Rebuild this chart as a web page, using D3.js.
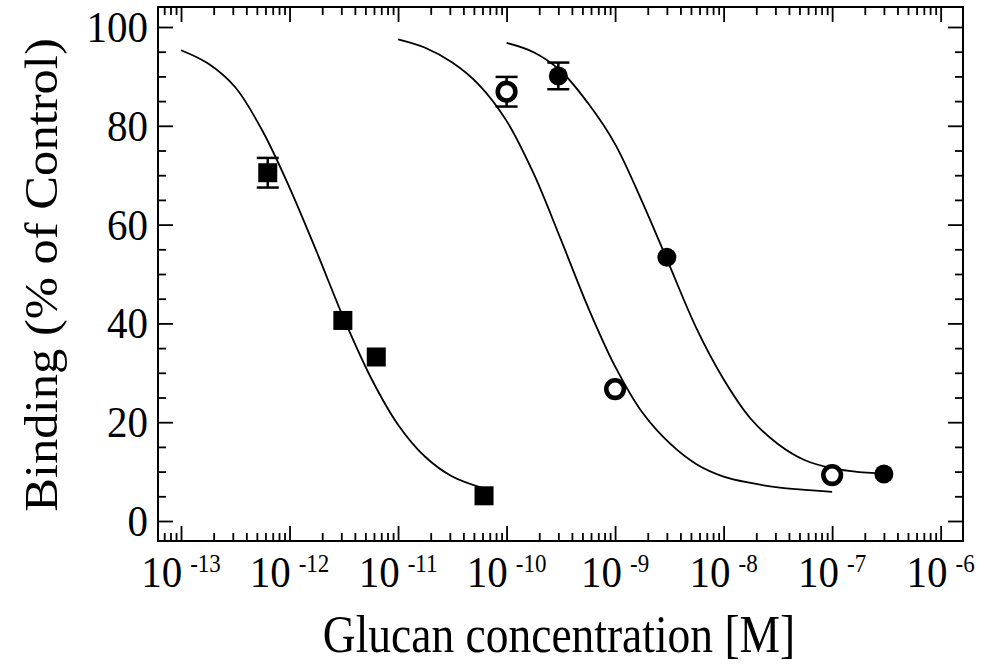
<!DOCTYPE html>
<html>
<head>
<meta charset="utf-8">
<script src="https://cdn.jsdelivr.net/npm/d3@7"></script>
<style>
  html, body { margin: 0; padding: 0; background: #fff; }
  svg { display: block; }
  text { font-family: "Liberation Serif", "Times New Roman", serif; fill: #000; }
</style>
</head>
<body>
<svg id="chart" width="982" height="666"></svg>
<script>
// ---------------- data ----------------
// Filled squares
const sqConc    = [6.3e-13, 3.1e-12, 6.3e-12, 6.2e-11];
const sqBinding = [70.5, 40.6, 33.2, 5.1];
const sqErr     = [3.0, 0, 0, 0];
// Open circles
const openConc    = [1.0e-10, 1.0e-9, 1.0e-7];
const openBinding = [86.9, 26.7, 9.3];
const openErr     = [3.0, 0, 0];
// Filled circles
const filledConc    = [3.0e-10, 3.0e-9, 3.0e-7];
const filledBinding = [90.1, 53.4, 9.5];
const filledErr     = [2.7, 0, 0];

// Fitted curves (log10 concentration, binding %)
const curveSqLog = [-13.0, -12.75, -12.5, -12.25, -12.0, -11.75, -11.5, -11.25, -11.0, -10.75, -10.5, -10.21];
const curveSqY   = [95.3, 92.6, 87.8, 79.0, 67.5, 54.5, 41.0, 29.0, 19.5, 13.0, 9.0, 6.6];

const curveOpenLog = [-11.0, -10.75, -10.5, -10.25, -10.0, -9.75, -9.5, -9.25, -9.0, -8.75, -8.5, -8.25, -8.0, -7.75, -7.5, -7.25, -7.0];
const curveOpenY   = [97.5, 95.8, 92.8, 88.2, 81.0, 70.3, 57.0, 43.3, 31.3, 22.0, 15.8, 11.5, 9.0, 7.7, 6.8, 6.3, 5.9];

const curveFilledLog = [-10.0, -9.75, -9.5, -9.25, -9.0, -8.75, -8.5, -8.25, -8.0, -7.75, -7.5, -7.25, -7.0, -6.75, -6.59];
const curveFilledY   = [96.8, 94.9, 91.1, 84.6, 76.3, 64.6, 51.8, 39.0, 28.7, 20.7, 15.6, 12.3, 10.7, 9.9, 9.7];

// Tick labels
const xTickValues = [1e-13, 1e-12, 1e-11, 1e-10, 1e-9, 1e-8, 1e-7, 1e-6];
const xTickExps   = ["-13", "-12", "-11", "-10", "-9", "-8", "-7", "-6"];
const yTickValues = [0, 20, 40, 60, 80, 100];
const yTickLabels = ["0", "20", "40", "60", "80", "100"];
const yMinorValues = [5, 10, 15, 25, 30, 35, 45, 50, 55, 65, 70, 75, 85, 90, 95];

const xTitle = "Glucan concentration [M]";
const yTitle = "Binding (% of Control)";

// ---------------- layout ----------------
const L = 158, R = 963, T = 7, B = 541;
const svg = d3.select("#chart");

const x = d3.scaleLog().domain([Math.pow(10, -13.212), Math.pow(10, -5.794)]).range([L, R]);
const y = d3.scaleLinear().domain([-4.05, 104.05]).range([B, T]);

// minor x ticks (2..9 of each decade), inside domain
const xMinor = [];
for (let e = -14; e <= -6; e++) {
  for (let m = 2; m <= 9; m++) {
    const v = m * Math.pow(10, e);
    if (v > x.domain()[0] && v < x.domain()[1]) xMinor.push(v);
  }
}

const MAJ = 15, MIN = 8;
function styleAxis(g) {
  g.select(".domain").remove();
  g.selectAll("line").attr("stroke", "#000").attr("stroke-width", 1.8);
  g.selectAll("text").remove();
}

// bottom / top
svg.append("g").attr("transform", `translate(0,${B})`)
  .call(d3.axisBottom(x).tickValues(xTickValues).tickSize(-MAJ).tickFormat("")).call(styleAxis);
svg.append("g").attr("transform", `translate(0,${B})`)
  .call(d3.axisBottom(x).tickValues(xMinor).tickSize(-MIN).tickFormat("")).call(styleAxis);
svg.append("g").attr("transform", `translate(0,${T})`)
  .call(d3.axisTop(x).tickValues(xTickValues).tickSize(-MAJ).tickFormat("")).call(styleAxis);
svg.append("g").attr("transform", `translate(0,${T})`)
  .call(d3.axisTop(x).tickValues(xMinor).tickSize(-MIN).tickFormat("")).call(styleAxis);
// left / right
svg.append("g").attr("transform", `translate(${L},0)`)
  .call(d3.axisLeft(y).tickValues(yTickValues).tickSize(-MAJ).tickFormat("")).call(styleAxis);
svg.append("g").attr("transform", `translate(${L},0)`)
  .call(d3.axisLeft(y).tickValues(yMinorValues).tickSize(-MIN).tickFormat("")).call(styleAxis);
svg.append("g").attr("transform", `translate(${R},0)`)
  .call(d3.axisRight(y).tickValues(yTickValues).tickSize(-MAJ).tickFormat("")).call(styleAxis);
svg.append("g").attr("transform", `translate(${R},0)`)
  .call(d3.axisRight(y).tickValues(yMinorValues).tickSize(-MIN).tickFormat("")).call(styleAxis);

// frame
svg.append("rect").attr("x", L).attr("y", T).attr("width", R - L).attr("height", B - T)
  .attr("fill", "none").attr("stroke", "#000").attr("stroke-width", 2);

// tick labels
const SY = 1.1;
xTickValues.forEach((v, i) => {
  const t = svg.append("text")
    .attr("transform", `translate(${x(v)},587) scale(1,${SY})`)
    .attr("text-anchor", "middle")
    .style("font-size", "41px");
  t.append("tspan").text("10");
  t.append("tspan").attr("dx", 8).attr("dy", -13.6).style("font-size", "23px").text(xTickExps[i]);
});
yTickValues.forEach((v, i) => {
  svg.append("text")
    .attr("transform", `translate(148,${y(v) + 15})  scale(1,${SY})`)
    .attr("text-anchor", "end")
    .style("font-size", "41px")
    .text(yTickLabels[i]);
});

// axis titles
svg.append("text")
  .attr("transform", `translate(559,652) scale(1,1.15)`)
  .attr("text-anchor", "middle")
  .style("font-size", "45.5px")
  .text(xTitle);
svg.append("text")
  .attr("transform", `translate(57,275) scale(1,1.1) rotate(-90)`)
  .attr("text-anchor", "middle")
  .style("font-size", "46px")
  .text(yTitle);

// curves
const line = d3.line()
  .x(d => x(Math.pow(10, d[0])))
  .y(d => y(d[1]))
  .curve(d3.curveCatmullRom.alpha(0.5));
[[curveSqLog, curveSqY], [curveOpenLog, curveOpenY], [curveFilledLog, curveFilledY]].forEach(([lx, ly]) => {
  svg.append("path")
    .datum(lx.map((v, i) => [v, ly[i]]))
    .attr("d", line)
    .attr("fill", "none")
    .attr("stroke", "#000")
    .attr("stroke-width", 1.8);
});

// error bars
function errorBars(conc, val, err) {
  conc.forEach((c, i) => {
    if (!err[i]) return;
    const cx = x(c), y1 = y(val[i] + err[i]), y2 = y(val[i] - err[i]);
    const g = svg.append("g").attr("stroke", "#000").attr("stroke-width", 2.5);
    g.append("line").attr("x1", cx).attr("x2", cx).attr("y1", y1).attr("y2", y2);
    g.append("line").attr("x1", cx - 11).attr("x2", cx + 11).attr("y1", y1).attr("y2", y1);
    g.append("line").attr("x1", cx - 11).attr("x2", cx + 11).attr("y1", y2).attr("y2", y2);
  });
}
errorBars(sqConc, sqBinding, sqErr);
errorBars(openConc, openBinding, openErr);
errorBars(filledConc, filledBinding, filledErr);

// markers
const SQ = 19;
svg.append("g").selectAll("rect").data(sqConc).join("rect")
  .attr("x", (d) => x(d) - SQ / 2)
  .attr("y", (d, i) => y(sqBinding[i]) - SQ / 2)
  .attr("width", SQ).attr("height", SQ)
  .attr("fill", "#000");
svg.append("g").selectAll("circle").data(openConc).join("circle")
  .attr("cx", d => x(d))
  .attr("cy", (d, i) => y(openBinding[i]))
  .attr("r", 8.8)
  .attr("fill", "#fff")
  .attr("stroke", "#000")
  .attr("stroke-width", 4.6);
svg.append("g").selectAll("circle").data(filledConc).join("circle")
  .attr("cx", d => x(d))
  .attr("cy", (d, i) => y(filledBinding[i]))
  .attr("r", 9.5)
  .attr("fill", "#000");
</script>
</body>
</html>
